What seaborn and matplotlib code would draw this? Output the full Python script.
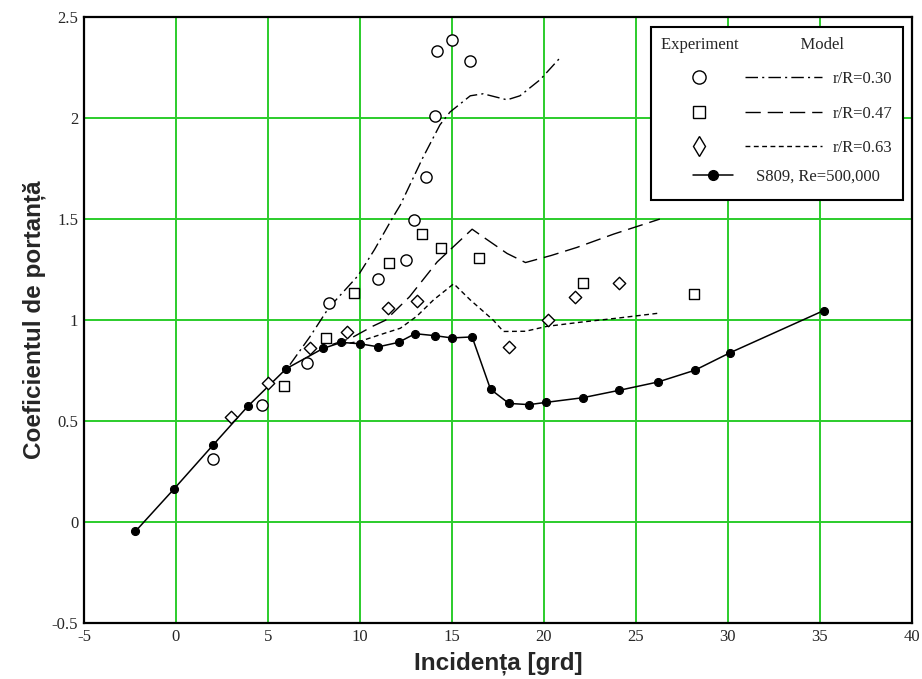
import pandas as pd
import seaborn as sns
import matplotlib.pyplot as plt
from matplotlib.lines import Line2D
from matplotlib.legend_handler import HandlerTuple

# S809 airfoil, Re = 500,000
s809_alpha = [-2.2, -0.1, 2.0, 3.9, 6.0, 8.0, 9.0, 10.0, 11.0, 12.1, 13.0, 14.1,
              15.0, 16.1, 17.1, 18.1, 19.2, 20.1, 22.1, 24.1, 26.2, 28.2, 30.1, 35.2]
s809_cl = [-0.045, 0.165, 0.38, 0.573, 0.76, 0.86, 0.89, 0.883, 0.868, 0.89, 0.933, 0.923,
           0.912, 0.917, 0.658, 0.588, 0.582, 0.593, 0.616, 0.653, 0.694, 0.752, 0.838, 1.047]

# experiment points
exp030_alpha = [2.0, 4.7, 7.1, 8.3, 11.0, 12.5, 12.95, 13.6, 14.1, 14.2, 15.0, 16.0]
exp030_cl = [0.315, 0.58, 0.789, 1.083, 1.206, 1.299, 1.495, 1.708, 2.011, 2.333, 2.386, 2.284]

exp047_alpha = [5.9, 8.15, 9.7, 11.6, 13.4, 14.4, 16.5, 22.1, 28.15]
exp047_cl = [0.675, 0.912, 1.136, 1.283, 1.426, 1.356, 1.307, 1.185, 1.127]

exp063_alpha = [3.0, 5.0, 7.3, 9.3, 11.55, 13.1, 18.1, 20.2, 21.7, 24.1]
exp063_cl = [0.52, 0.69, 0.86, 0.94, 1.062, 1.097, 0.868, 1.0, 1.113, 1.185]

# model curves
model030_alpha = [6.2, 7.3, 8.3, 9.4, 9.9, 10.8, 11.8, 12.2, 13.4, 14.35, 14.9, 16.0,
                  16.7, 18.0, 18.7, 19.8, 20.9]
model030_cl = [0.78, 0.92, 1.06, 1.17, 1.22, 1.35, 1.51, 1.57, 1.80, 1.966, 2.03, 2.11,
               2.12, 2.09, 2.11, 2.19, 2.30]

model047_alpha = [8.5, 9.5, 10.7, 11.4, 12.7, 14.2, 16.1, 16.6, 18.0, 19.0, 20.4, 21.8, 23.8, 26.3]
model047_cl = [0.88, 0.91, 0.97, 1.0, 1.116, 1.288, 1.45, 1.418, 1.33, 1.285, 1.32, 1.36, 1.426, 1.50]

model063_alpha = [9.0, 10.0, 11.1, 12.2, 13.1, 14.0, 15.1, 16.0, 17.25, 17.8, 19.0, 20.15,
                  22.0, 24.0, 26.2]
model063_cl = [0.88, 0.895, 0.928, 0.96, 1.02, 1.10, 1.18, 1.10, 1.0, 0.944, 0.945, 0.969,
               0.99, 1.01, 1.034]

x_ticks = [-5, 0, 5, 10, 15, 20, 25, 30, 35, 40]
y_ticks = [-0.5, 0, 0.5, 1, 1.5, 2, 2.5]

ls_030 = (0, (9, 3, 1.5, 3))
ls_047 = (0, (11, 5))
ls_063 = (0, (3.5, 2.5))

sns.set_style("white")
plt.rcParams['font.family'] = ['Liberation Serif', 'DejaVu Serif']

fig = plt.figure(figsize=(9.22, 6.79), dpi=100)
ax = fig.add_axes([0.091, 0.082, 0.898, 0.893])

# model lines
for xs, ys, ls in [(model030_alpha, model030_cl, ls_030),
                   (model047_alpha, model047_cl, ls_047),
                   (model063_alpha, model063_cl, ls_063)]:
    sns.lineplot(x=xs, y=ys, ax=ax, color='black', lw=1.0, linestyle=ls,
                 sort=False, estimator=None, zorder=3)

# S809 reference curve
sns.lineplot(x=s809_alpha, y=s809_cl, ax=ax, color='black', lw=1.1, marker='o',
             markersize=5.8, markeredgecolor='black', sort=False, estimator=None, zorder=4)

# experiment markers
for xs, ys, mk, sz in [(exp030_alpha, exp030_cl, 'o', 65),
                       (exp047_alpha, exp047_cl, 's', 62),
                       (exp063_alpha, exp063_cl, 'D', 40)]:
    sns.scatterplot(x=xs, y=ys, ax=ax, marker=mk, s=sz, facecolor='white',
                    edgecolor='black', linewidth=1.0, zorder=5)

ax.set_xlim(-5, 40)
ax.set_ylim(-0.5, 2.5)
ax.set_xticks(x_ticks)
ax.set_yticks(y_ticks)
ax.set_xticklabels([str(v) for v in x_ticks])
ax.set_yticklabels([f'{v:g}' for v in y_ticks])
ax.tick_params(length=0, labelsize=12, pad=4)
ax.grid(True, color='#2bcc2b', lw=1.4)
ax.set_axisbelow(True)
for sp in ax.spines.values():
    sp.set_color('black')
    sp.set_linewidth(1.6)

ax.set_xlabel('Incidența [grd]', fontsize=17.5, fontweight='bold',
              family='Liberation Sans', labelpad=5)
ax.set_ylabel('Coeficientul de portanță', fontsize=17.5, fontweight='bold',
              family='Liberation Sans', labelpad=4)

# legend: experiment marker + model line in each row
def mk(marker, size):
    return Line2D([], [], ls='none', marker=marker, markersize=size,
                  markerfacecolor='white', markeredgecolor='black', markeredgewidth=1.0)

def ln(style):
    return Line2D([], [], color='black', lw=1.0, linestyle=style)

blank = Line2D([], [], ls='none')
handles = [(mk('o', 9.5), ln(ls_030)),
           (mk('s', 9), ln(ls_047)),
           (mk('d', 10), ln(ls_063)),
           blank]
labels = ['r/R=0.30', 'r/R=0.47', 'r/R=0.63', ' ']
leg = ax.legend(handles, labels, loc='upper right', bbox_to_anchor=(0.989, 0.9835),
                borderaxespad=0,
                handler_map={tuple: HandlerTuple(ndivide=2, pad=0.4)},
                handlelength=9.7, handletextpad=0.65, labelspacing=1.1,
                borderpad=0.6, fontsize=12, frameon=True, fancybox=False,
                framealpha=1, edgecolor='black',
                title='Experiment               Model', title_fontsize=12,
                alignment='left')
leg.get_frame().set_linewidth(1.5)
ax.add_artist(leg)

# S809 row sits on the last (blank) row of the box
s809_handle = Line2D([], [], color='black', lw=1.1, marker='o', markersize=7)
leg2 = ax.legend([s809_handle], ['S809, Re=500,000'], loc='center left',
                 bbox_to_anchor=(0.7355, 0.736), borderaxespad=0, borderpad=0,
                 handlelength=2.4, handletextpad=1.4, fontsize=12, frameon=False)

fig.savefig('out.png', dpi=100)
